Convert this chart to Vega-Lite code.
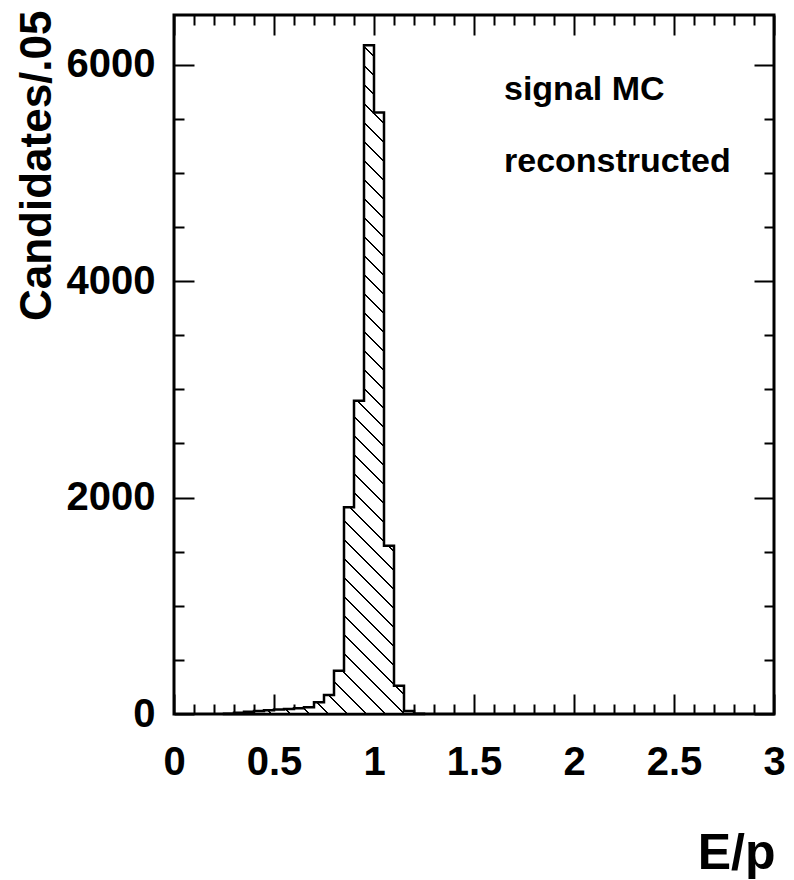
{
  "$schema": "https://vega.github.io/schema/vega-lite/v6.json",
  "width": 600,
  "height": 699,
  "autosize": {"type": "none"},
  "padding": {"left": 174, "top": 15, "right": 20, "bottom": 166},
  "background": "white",
  "data": {"values": [
    {"lo": 0.25, "hi": 0.30, "count": 2},
    {"lo": 0.30, "hi": 0.35, "count": 12},
    {"lo": 0.35, "hi": 0.40, "count": 20},
    {"lo": 0.40, "hi": 0.45, "count": 27},
    {"lo": 0.45, "hi": 0.50, "count": 34},
    {"lo": 0.50, "hi": 0.55, "count": 41},
    {"lo": 0.55, "hi": 0.60, "count": 47},
    {"lo": 0.60, "hi": 0.65, "count": 54},
    {"lo": 0.65, "hi": 0.70, "count": 62},
    {"lo": 0.70, "hi": 0.75, "count": 108},
    {"lo": 0.75, "hi": 0.80, "count": 175},
    {"lo": 0.80, "hi": 0.85, "count": 400},
    {"lo": 0.85, "hi": 0.90, "count": 1910},
    {"lo": 0.90, "hi": 0.95, "count": 2895},
    {"lo": 0.95, "hi": 1.00, "count": 6180},
    {"lo": 1.00, "hi": 1.05, "count": 5560},
    {"lo": 1.05, "hi": 1.10, "count": 1555},
    {"lo": 1.10, "hi": 1.15, "count": 262},
    {"lo": 1.15, "hi": 1.20, "count": 28},
    {"lo": 1.20, "hi": 1.25, "count": 3}
  ]},
  "layer": [
    {
      "transform": [{"fold": ["lo", "hi"], "as": ["side", "edge"]}],
      "mark": {
        "type": "area",
        "interpolate": "linear",
        "stroke": "black",
        "strokeWidth": 2.5,
        "strokeJoin": "miter",
        "fill": {
          "gradient": "linear",
          "x1": 0, "y1": 1, "x2": 0.35891, "y2": -0.2,
          "stops": [
            {"offset": 0, "color": "white"},
            {"offset": 0.00997, "color": "white"}, {"offset": 0.00997, "color": "black"}, {"offset": 0.01177, "color": "black"}, {"offset": 0.01177, "color": "white"},
            {"offset": 0.03171, "color": "white"}, {"offset": 0.03171, "color": "black"}, {"offset": 0.03351, "color": "black"}, {"offset": 0.03351, "color": "white"},
            {"offset": 0.05345, "color": "white"}, {"offset": 0.05345, "color": "black"}, {"offset": 0.05525, "color": "black"}, {"offset": 0.05525, "color": "white"},
            {"offset": 0.07519, "color": "white"}, {"offset": 0.07519, "color": "black"}, {"offset": 0.07699, "color": "black"}, {"offset": 0.07699, "color": "white"},
            {"offset": 0.09693, "color": "white"}, {"offset": 0.09693, "color": "black"}, {"offset": 0.09873, "color": "black"}, {"offset": 0.09873, "color": "white"},
            {"offset": 0.11867, "color": "white"}, {"offset": 0.11867, "color": "black"}, {"offset": 0.12047, "color": "black"}, {"offset": 0.12047, "color": "white"},
            {"offset": 0.14040, "color": "white"}, {"offset": 0.14040, "color": "black"}, {"offset": 0.14220, "color": "black"}, {"offset": 0.14220, "color": "white"},
            {"offset": 0.16214, "color": "white"}, {"offset": 0.16214, "color": "black"}, {"offset": 0.16394, "color": "black"}, {"offset": 0.16394, "color": "white"},
            {"offset": 0.18388, "color": "white"}, {"offset": 0.18388, "color": "black"}, {"offset": 0.18568, "color": "black"}, {"offset": 0.18568, "color": "white"},
            {"offset": 0.20562, "color": "white"}, {"offset": 0.20562, "color": "black"}, {"offset": 0.20742, "color": "black"}, {"offset": 0.20742, "color": "white"},
            {"offset": 0.22736, "color": "white"}, {"offset": 0.22736, "color": "black"}, {"offset": 0.22916, "color": "black"}, {"offset": 0.22916, "color": "white"},
            {"offset": 0.24910, "color": "white"}, {"offset": 0.24910, "color": "black"}, {"offset": 0.25090, "color": "black"}, {"offset": 0.25090, "color": "white"},
            {"offset": 0.27084, "color": "white"}, {"offset": 0.27084, "color": "black"}, {"offset": 0.27264, "color": "black"}, {"offset": 0.27264, "color": "white"},
            {"offset": 0.29258, "color": "white"}, {"offset": 0.29258, "color": "black"}, {"offset": 0.29438, "color": "black"}, {"offset": 0.29438, "color": "white"},
            {"offset": 0.31432, "color": "white"}, {"offset": 0.31432, "color": "black"}, {"offset": 0.31612, "color": "black"}, {"offset": 0.31612, "color": "white"},
            {"offset": 0.33606, "color": "white"}, {"offset": 0.33606, "color": "black"}, {"offset": 0.33786, "color": "black"}, {"offset": 0.33786, "color": "white"},
            {"offset": 0.35780, "color": "white"}, {"offset": 0.35780, "color": "black"}, {"offset": 0.35960, "color": "black"}, {"offset": 0.35960, "color": "white"},
            {"offset": 0.37953, "color": "white"}, {"offset": 0.37953, "color": "black"}, {"offset": 0.38133, "color": "black"}, {"offset": 0.38133, "color": "white"},
            {"offset": 0.40127, "color": "white"}, {"offset": 0.40127, "color": "black"}, {"offset": 0.40307, "color": "black"}, {"offset": 0.40307, "color": "white"},
            {"offset": 0.42301, "color": "white"}, {"offset": 0.42301, "color": "black"}, {"offset": 0.42481, "color": "black"}, {"offset": 0.42481, "color": "white"},
            {"offset": 0.44475, "color": "white"}, {"offset": 0.44475, "color": "black"}, {"offset": 0.44655, "color": "black"}, {"offset": 0.44655, "color": "white"},
            {"offset": 0.46649, "color": "white"}, {"offset": 0.46649, "color": "black"}, {"offset": 0.46829, "color": "black"}, {"offset": 0.46829, "color": "white"},
            {"offset": 0.48823, "color": "white"}, {"offset": 0.48823, "color": "black"}, {"offset": 0.49003, "color": "black"}, {"offset": 0.49003, "color": "white"},
            {"offset": 0.50997, "color": "white"}, {"offset": 0.50997, "color": "black"}, {"offset": 0.51177, "color": "black"}, {"offset": 0.51177, "color": "white"},
            {"offset": 0.53171, "color": "white"}, {"offset": 0.53171, "color": "black"}, {"offset": 0.53351, "color": "black"}, {"offset": 0.53351, "color": "white"},
            {"offset": 0.55345, "color": "white"}, {"offset": 0.55345, "color": "black"}, {"offset": 0.55525, "color": "black"}, {"offset": 0.55525, "color": "white"},
            {"offset": 0.57519, "color": "white"}, {"offset": 0.57519, "color": "black"}, {"offset": 0.57699, "color": "black"}, {"offset": 0.57699, "color": "white"},
            {"offset": 0.59693, "color": "white"}, {"offset": 0.59693, "color": "black"}, {"offset": 0.59873, "color": "black"}, {"offset": 0.59873, "color": "white"},
            {"offset": 0.61867, "color": "white"}, {"offset": 0.61867, "color": "black"}, {"offset": 0.62047, "color": "black"}, {"offset": 0.62047, "color": "white"},
            {"offset": 0.64040, "color": "white"}, {"offset": 0.64040, "color": "black"}, {"offset": 0.64220, "color": "black"}, {"offset": 0.64220, "color": "white"},
            {"offset": 0.66214, "color": "white"}, {"offset": 0.66214, "color": "black"}, {"offset": 0.66394, "color": "black"}, {"offset": 0.66394, "color": "white"},
            {"offset": 0.68388, "color": "white"}, {"offset": 0.68388, "color": "black"}, {"offset": 0.68568, "color": "black"}, {"offset": 0.68568, "color": "white"},
            {"offset": 0.70562, "color": "white"}, {"offset": 0.70562, "color": "black"}, {"offset": 0.70742, "color": "black"}, {"offset": 0.70742, "color": "white"},
            {"offset": 0.72736, "color": "white"}, {"offset": 0.72736, "color": "black"}, {"offset": 0.72916, "color": "black"}, {"offset": 0.72916, "color": "white"},
            {"offset": 0.74910, "color": "white"}, {"offset": 0.74910, "color": "black"}, {"offset": 0.75090, "color": "black"}, {"offset": 0.75090, "color": "white"},
            {"offset": 0.77084, "color": "white"}, {"offset": 0.77084, "color": "black"}, {"offset": 0.77264, "color": "black"}, {"offset": 0.77264, "color": "white"},
            {"offset": 0.79258, "color": "white"}, {"offset": 0.79258, "color": "black"}, {"offset": 0.79438, "color": "black"}, {"offset": 0.79438, "color": "white"},
            {"offset": 0.81432, "color": "white"}, {"offset": 0.81432, "color": "black"}, {"offset": 0.81612, "color": "black"}, {"offset": 0.81612, "color": "white"},
            {"offset": 0.83606, "color": "white"}, {"offset": 0.83606, "color": "black"}, {"offset": 0.83786, "color": "black"}, {"offset": 0.83786, "color": "white"},
            {"offset": 0.85780, "color": "white"}, {"offset": 0.85780, "color": "black"}, {"offset": 0.85960, "color": "black"}, {"offset": 0.85960, "color": "white"},
            {"offset": 0.87953, "color": "white"}, {"offset": 0.87953, "color": "black"}, {"offset": 0.88133, "color": "black"}, {"offset": 0.88133, "color": "white"},
            {"offset": 0.90127, "color": "white"}, {"offset": 0.90127, "color": "black"}, {"offset": 0.90307, "color": "black"}, {"offset": 0.90307, "color": "white"},
            {"offset": 0.92301, "color": "white"}, {"offset": 0.92301, "color": "black"}, {"offset": 0.92481, "color": "black"}, {"offset": 0.92481, "color": "white"},
            {"offset": 0.94475, "color": "white"}, {"offset": 0.94475, "color": "black"}, {"offset": 0.94655, "color": "black"}, {"offset": 0.94655, "color": "white"},
            {"offset": 0.96649, "color": "white"}, {"offset": 0.96649, "color": "black"}, {"offset": 0.96829, "color": "black"}, {"offset": 0.96829, "color": "white"},
            {"offset": 0.98823, "color": "white"}, {"offset": 0.98823, "color": "black"}, {"offset": 0.99003, "color": "black"}, {"offset": 0.99003, "color": "white"},
            {"offset": 1, "color": "white"}
          ]
        }
      },
      "encoding": {
        "x": {
          "field": "edge", "type": "quantitative",
          "scale": {"domain": [0, 3], "nice": false, "zero": false},
          "axis": {
            "orient": "bottom",
            "values": [0, 0.5, 1, 1.5, 2, 2.5, 3],
            "format": "~g",
            "tickSize": -20,
            "labelPadding": 48,
            "title": "E/p",
            "titleFontSize": 50,
            "titleAnchor": "end",
            "titleAlign": "right",
            "titleBaseline": "alphabetic",
            "titleX": 601,
            "titleY": 154
          }
        },
        "y": {
          "field": "count", "type": "quantitative", "stack": null,
          "scale": {"domain": [0, 6460], "nice": false},
          "axis": {
            "orient": "left",
            "values": [0, 2000, 4000, 6000],
            "format": "d",
            "tickSize": -20,
            "labelPadding": 39,
            "title": "Candidates/.05",
            "titleFontSize": 44,
            "titleAngle": 270,
            "titleAnchor": "end",
            "titleAlign": "right",
            "titleBaseline": "alphabetic",
            "titleX": -124,
            "titleY": -5
          }
        }
      }
    },
    {
      "transform": [{"fold": ["lo", "hi"], "as": ["side", "edge"]}],
      "mark": {"type": "point", "opacity": 0},
      "encoding": {
        "x": {
          "field": "edge", "type": "quantitative",
          "axis": {
            "orient": "bottom",
            "values": [0.1, 0.2, 0.3, 0.4, 0.6, 0.7, 0.8, 0.9, 1.1, 1.2, 1.3, 1.4, 1.6, 1.7, 1.8, 1.9, 2.1, 2.2, 2.3, 2.4, 2.6, 2.7, 2.8, 2.9],
            "tickSize": -10, "labels": false, "title": null
          }
        },
        "y": {
          "field": "count", "type": "quantitative", "stack": null,
          "axis": {
            "orient": "left",
            "values": [500, 1000, 1500, 2500, 3000, 3500, 4500, 5000, 5500],
            "tickSize": -10, "labels": false, "title": null
          }
        }
      }
    },
    {
      "transform": [{"fold": ["lo", "hi"], "as": ["side", "edge"]}],
      "mark": {"type": "point", "opacity": 0},
      "encoding": {
        "x": {
          "field": "edge", "type": "quantitative",
          "axis": {
            "orient": "top",
            "values": [0, 0.5, 1, 1.5, 2, 2.5, 3],
            "tickSize": -20, "labels": false, "title": null
          }
        },
        "y": {
          "field": "count", "type": "quantitative", "stack": null,
          "axis": {
            "orient": "right",
            "values": [0, 2000, 4000, 6000],
            "tickSize": -20, "labels": false, "title": null
          }
        }
      }
    },
    {
      "transform": [{"fold": ["lo", "hi"], "as": ["side", "edge"]}],
      "mark": {"type": "point", "opacity": 0},
      "encoding": {
        "x": {
          "field": "edge", "type": "quantitative",
          "axis": {
            "orient": "top",
            "values": [0.1, 0.2, 0.3, 0.4, 0.6, 0.7, 0.8, 0.9, 1.1, 1.2, 1.3, 1.4, 1.6, 1.7, 1.8, 1.9, 2.1, 2.2, 2.3, 2.4, 2.6, 2.7, 2.8, 2.9],
            "tickSize": -10, "labels": false, "title": null
          }
        },
        "y": {
          "field": "count", "type": "quantitative", "stack": null,
          "axis": {
            "orient": "right",
            "values": [500, 1000, 1500, 2500, 3000, 3500, 4500, 5000, 5500],
            "tickSize": -10, "labels": false, "title": null
          }
        }
      }
    },
    {
      "data": {"values": [{"label": "signal MC"}]},
      "mark": {"type": "text", "align": "left", "baseline": "alphabetic", "font": "Liberation Sans", "fontWeight": "bold", "fontSize": 34, "color": "black"},
      "encoding": {
        "text": {"field": "label"},
        "x": {"datum": 1.65, "type": "quantitative", "axis": null},
        "y": {"datum": 5674, "type": "quantitative", "axis": null}
      }
    },
    {
      "data": {"values": [{"label": "reconstructed"}]},
      "mark": {"type": "text", "align": "left", "baseline": "alphabetic", "font": "Liberation Sans", "fontWeight": "bold", "fontSize": 34, "color": "black"},
      "encoding": {
        "text": {"field": "label"},
        "x": {"datum": 1.65, "type": "quantitative", "axis": null},
        "y": {"datum": 5012, "type": "quantitative", "axis": null}
      }
    }
  ],
  "resolve": {"axis": {"x": "independent", "y": "independent"}},
  "config": {
    "view": {"stroke": "black", "strokeWidth": 3},
    "axis": {
      "domain": false,
      "grid": false,
      "ticks": true,
      "tickColor": "black",
      "tickWidth": 2,
      "labelFont": "Liberation Sans",
      "labelFontWeight": "bold",
      "labelFontSize": 40,
      "labelColor": "black",
      "labelFlush": false,
      "labelOverlap": false,
      "titleFont": "Liberation Sans",
      "titleFontWeight": "bold",
      "titleColor": "black",
      "zindex": 1
    }
  }
}
